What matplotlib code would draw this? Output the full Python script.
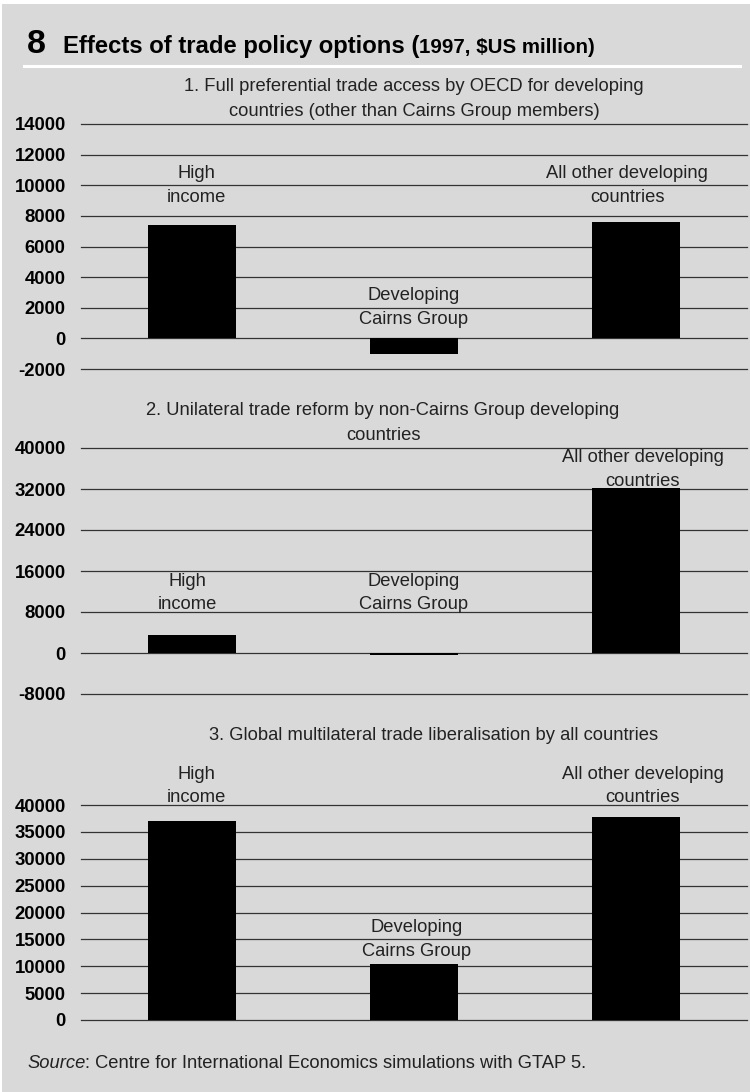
import matplotlib
matplotlib.use("Agg")
import matplotlib.pyplot as plt
from matplotlib.patches import Rectangle
from matplotlib.lines import Line2D

plt.rcParams['font.family'] = ['Liberation Sans', 'DejaVu Sans']

# data, $US million
categories = ["High\nincome", "Developing\nCairns Group", "All other developing\ncountries"]
full_pref = [7400, -1050, 7600]
unilateral = [3500, -300, 32100]
multilateral = [37000, 10400, 37700]

titles = ["1. Full preferential trade access by OECD for developing\ncountries (other than Cairns Group members)",
          "2. Unilateral trade reform by non-Cairns Group developing\ncountries",
          "3. Global multilateral trade liberalisation by all countries"]
ticks1 = [-2000, 0, 2000, 4000, 6000, 8000, 10000, 12000, 14000]
ticks2 = [-8000, 0, 8000, 16000, 24000, 32000, 40000]
ticks3 = [0, 5000, 10000, 15000, 20000, 25000, 30000, 35000, 40000]

W, H = 750, 1092
BG = '#d9d9d9'
TXT = 13.2
fig = plt.figure(figsize=(W / 100, H / 100), dpi=100)
fig.patch.set_facecolor('white')
fig.patches.append(Rectangle((2 / W, 0), 1, 1 - 4 / H, transform=fig.transFigure,
                             facecolor=BG, edgecolor='none', zorder=-10))


def px_axes(left, right, top, bottom):
    return fig.add_axes([left / W, 1 - bottom / H, (right - left) / W, (bottom - top) / H])


# (values, ticks, pixel top/bottom, label positions (dx, y), subtitle y, subtitle x)
panels = [
    (full_pref, ticks1, 124, 369, [(0.02, 10000), (0, 2000), (-0.04, 10000)], 99, 414),
    (unilateral, ticks2, 448, 694, [(-0.02, 11700), (0, 11700), (0.03, 35800)], 423, 383),
    (multilateral, ticks3, 805, 1020, [(0.02, 43500), (0.01, 15000), (0.03, 43500)], 735, 434),
]

for vals, ticks, top, bottom, lab_pos, sub_y, sub_x in panels:
    ax = px_axes(81, 747, top, bottom)
    ax.set_facecolor('none')
    ax.set_xlim(-0.5, 2.5)
    ax.set_ylim(ticks[0], ticks[-1])
    ax.set_yticks(ticks)
    ax.set_yticklabels([str(t) for t in ticks], fontsize=13.3, fontweight='bold')
    ax.set_xticks([])
    ax.tick_params(axis='y', length=0, pad=11)
    for s in ax.spines.values():
        s.set_visible(False)
    for t in ticks:
        ax.axhline(t, color='#333333', lw=0.9, zorder=1, clip_on=False)
    ax.bar(range(3), vals, width=0.4, color='black', zorder=3)
    for i, (dx, y) in enumerate(lab_pos):
        ax.text(i + dx, y, categories[i], ha='center', va='center', fontsize=TXT,
                color='#222222', linespacing=1.5, zorder=4, clip_on=False)

for (vals, ticks, top, bottom, lab_pos, sub_y, sub_x), title in zip(panels, titles):
    fig.text(sub_x / W, 1 - sub_y / H, title, ha='center', va='center', fontsize=TXT,
             color='#222222', linespacing=1.55)

# heading
fig.lines.append(Line2D([24 / W, 740 / W], [1 - 65.5 / H, 1 - 65.5 / H], transform=fig.transFigure,
                        color='white', lw=2.2))
base = 1 - 53 / H
fig.text(27 / W, base, "8", fontsize=24.5, fontweight='bold', va='baseline')
t1 = fig.text(63 / W, base, "Effects of trade policy options (", fontsize=17.2, fontweight='bold',
              va='baseline')
fig.canvas.draw()
bb = t1.get_window_extent()
fig.text(bb.x1 / W, base, "1997, $US million)", fontsize=14.8, fontweight='bold', va='baseline')

# source
sy = 1 - 1063 / H
s1 = fig.text(27 / W, sy, "Source", fontsize=TXT, style='italic', va='center', color='#222222')
fig.canvas.draw()
bb = s1.get_window_extent()
fig.text(bb.x1 / W, sy, ": Centre for International Economics simulations with GTAP 5.",
         fontsize=TXT, va='center', color='#222222')

fig.savefig("out.png", dpi=100, facecolor=fig.get_facecolor())
